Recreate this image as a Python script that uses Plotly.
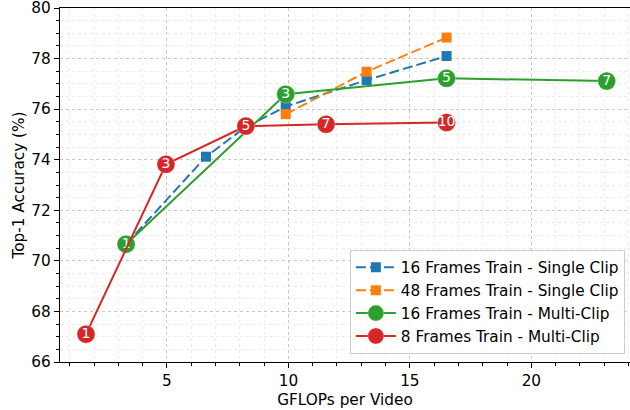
import plotly.graph_objects as go

# Data
blue_x = [3.32, 6.61, 8.25, 9.89, 13.22, 16.51]
blue_y = [70.66, 74.12, 75.30, 76.10, 77.15, 78.10]
orange_x = [9.89, 13.22, 16.51]
orange_y = [75.80, 77.48, 78.83]
green_x = [3.32, 9.89, 16.51, 23.10]
green_y = [70.66, 76.59, 77.22, 77.11]
green_clips = ["1", "3", "5", "7"]
red_x = [1.67, 4.96, 8.25, 11.55, 16.51]
red_y = [67.10, 73.82, 75.33, 75.40, 75.47]
red_clips = ["1", "3", "5", "7", "10"]

x_ticks = [5, 10, 15, 20]
y_ticks = [66, 68, 70, 72, 74, 76, 78, 80]

names = ["16 Frames Train - Single Clip", "48 Frames Train - Single Clip",
         "16 Frames Train - Multi-Clip", "8 Frames Train - Multi-Clip"]

BLUE, ORANGE, GREEN, RED = "#1f77b4", "#ff7f0e", "#2ca02c", "#d62728"
FONT = "DejaVu Sans"
FS = 15.3

fig = go.Figure()
fig.add_trace(go.Scatter(x=blue_x, y=blue_y, mode="lines+markers", name=names[0],
                         line=dict(color=BLUE, width=2, dash="10px,4px"),
                         marker=dict(symbol="square", size=10, color=BLUE)))
fig.add_trace(go.Scatter(x=orange_x, y=orange_y, mode="lines+markers", name=names[1],
                         line=dict(color=ORANGE, width=2, dash="10px,4px"),
                         marker=dict(symbol="square", size=10, color=ORANGE)))
fig.add_trace(go.Scatter(x=green_x, y=green_y, mode="lines+markers", name=names[2],
                         line=dict(color=GREEN, width=2),
                         marker=dict(symbol="circle", size=18, color=GREEN,
                                     line=dict(color="rgba(255,255,255,0.6)", width=0.5))))
fig.add_trace(go.Scatter(x=green_x, y=green_y, mode="text", text=green_clips,
                         textposition="middle center", showlegend=False,
                         textfont=dict(color="white", size=14, family=FONT), hoverinfo="skip"))
fig.add_trace(go.Scatter(x=red_x, y=red_y, mode="lines+markers", name=names[3],
                         line=dict(color=RED, width=2),
                         marker=dict(symbol="circle", size=18, color=RED,
                                     line=dict(color="rgba(255,255,255,0.6)", width=0.5))))
fig.add_trace(go.Scatter(x=red_x, y=red_y, mode="text", text=red_clips,
                         textposition="middle center", showlegend=False,
                         textfont=dict(color="white", size=14, family=FONT), hoverinfo="skip"))

fig.update_layout(
    width=630, height=410,
    margin=dict(l=60, r=0, t=8, b=48, autoexpand=False),
    plot_bgcolor="white", paper_bgcolor="white",
    font=dict(family=FONT, size=FS, color="black"),
    legend=dict(x=0.991, y=0.023, xanchor="right", yanchor="bottom",
                bgcolor="rgba(255,255,255,0.85)", bordercolor="#cccccc", borderwidth=1,
                font=dict(size=FS, family=FONT), tracegroupgap=0, itemwidth=40),
)
fig.update_xaxes(
    range=[0.6, 24.06], tickmode="array", tickvals=x_ticks,
    showline=True, linecolor="black", linewidth=1.2, mirror=True,
    ticks="outside", ticklen=5, tickwidth=1, tickcolor="black", automargin=False,
    ticklabeloverflow="allow", tickfont=dict(size=FS),
    showgrid=True, gridcolor="#c8c8c8", griddash="dot", gridwidth=1,
    zeroline=False,
    minor=dict(dtick=1, tick0=0, ticks="outside", ticklen=3, tickcolor="black",
               showgrid=True, gridcolor="#ececec", griddash="dot", gridwidth=1),
    title=dict(text="GFLOPs per Video", font=dict(size=FS), standoff=4),
)
fig.update_yaxes(
    range=[66, 80], tickmode="array", tickvals=y_ticks,
    showline=True, linecolor="black", linewidth=1.2, automargin=False,
    ticklabeloverflow="allow", tickfont=dict(size=FS),
    ticks="outside", ticklen=5, tickwidth=1, tickcolor="black",
    showgrid=True, gridcolor="#c8c8c8", griddash="dot", gridwidth=1,
    zeroline=False,
    minor=dict(dtick=0.5, tick0=66, ticks="outside", ticklen=3, tickcolor="black",
               showgrid=True, gridcolor="#ececec", griddash="dot", gridwidth=1),
    title=dict(text="Top-1 Accuracy (%)", font=dict(size=FS), standoff=3),
)

fig.write_html("out.html", config={"displayModeBar": False},
               post_script="document.body.style.margin='0';document.body.style.overflow='hidden';")
